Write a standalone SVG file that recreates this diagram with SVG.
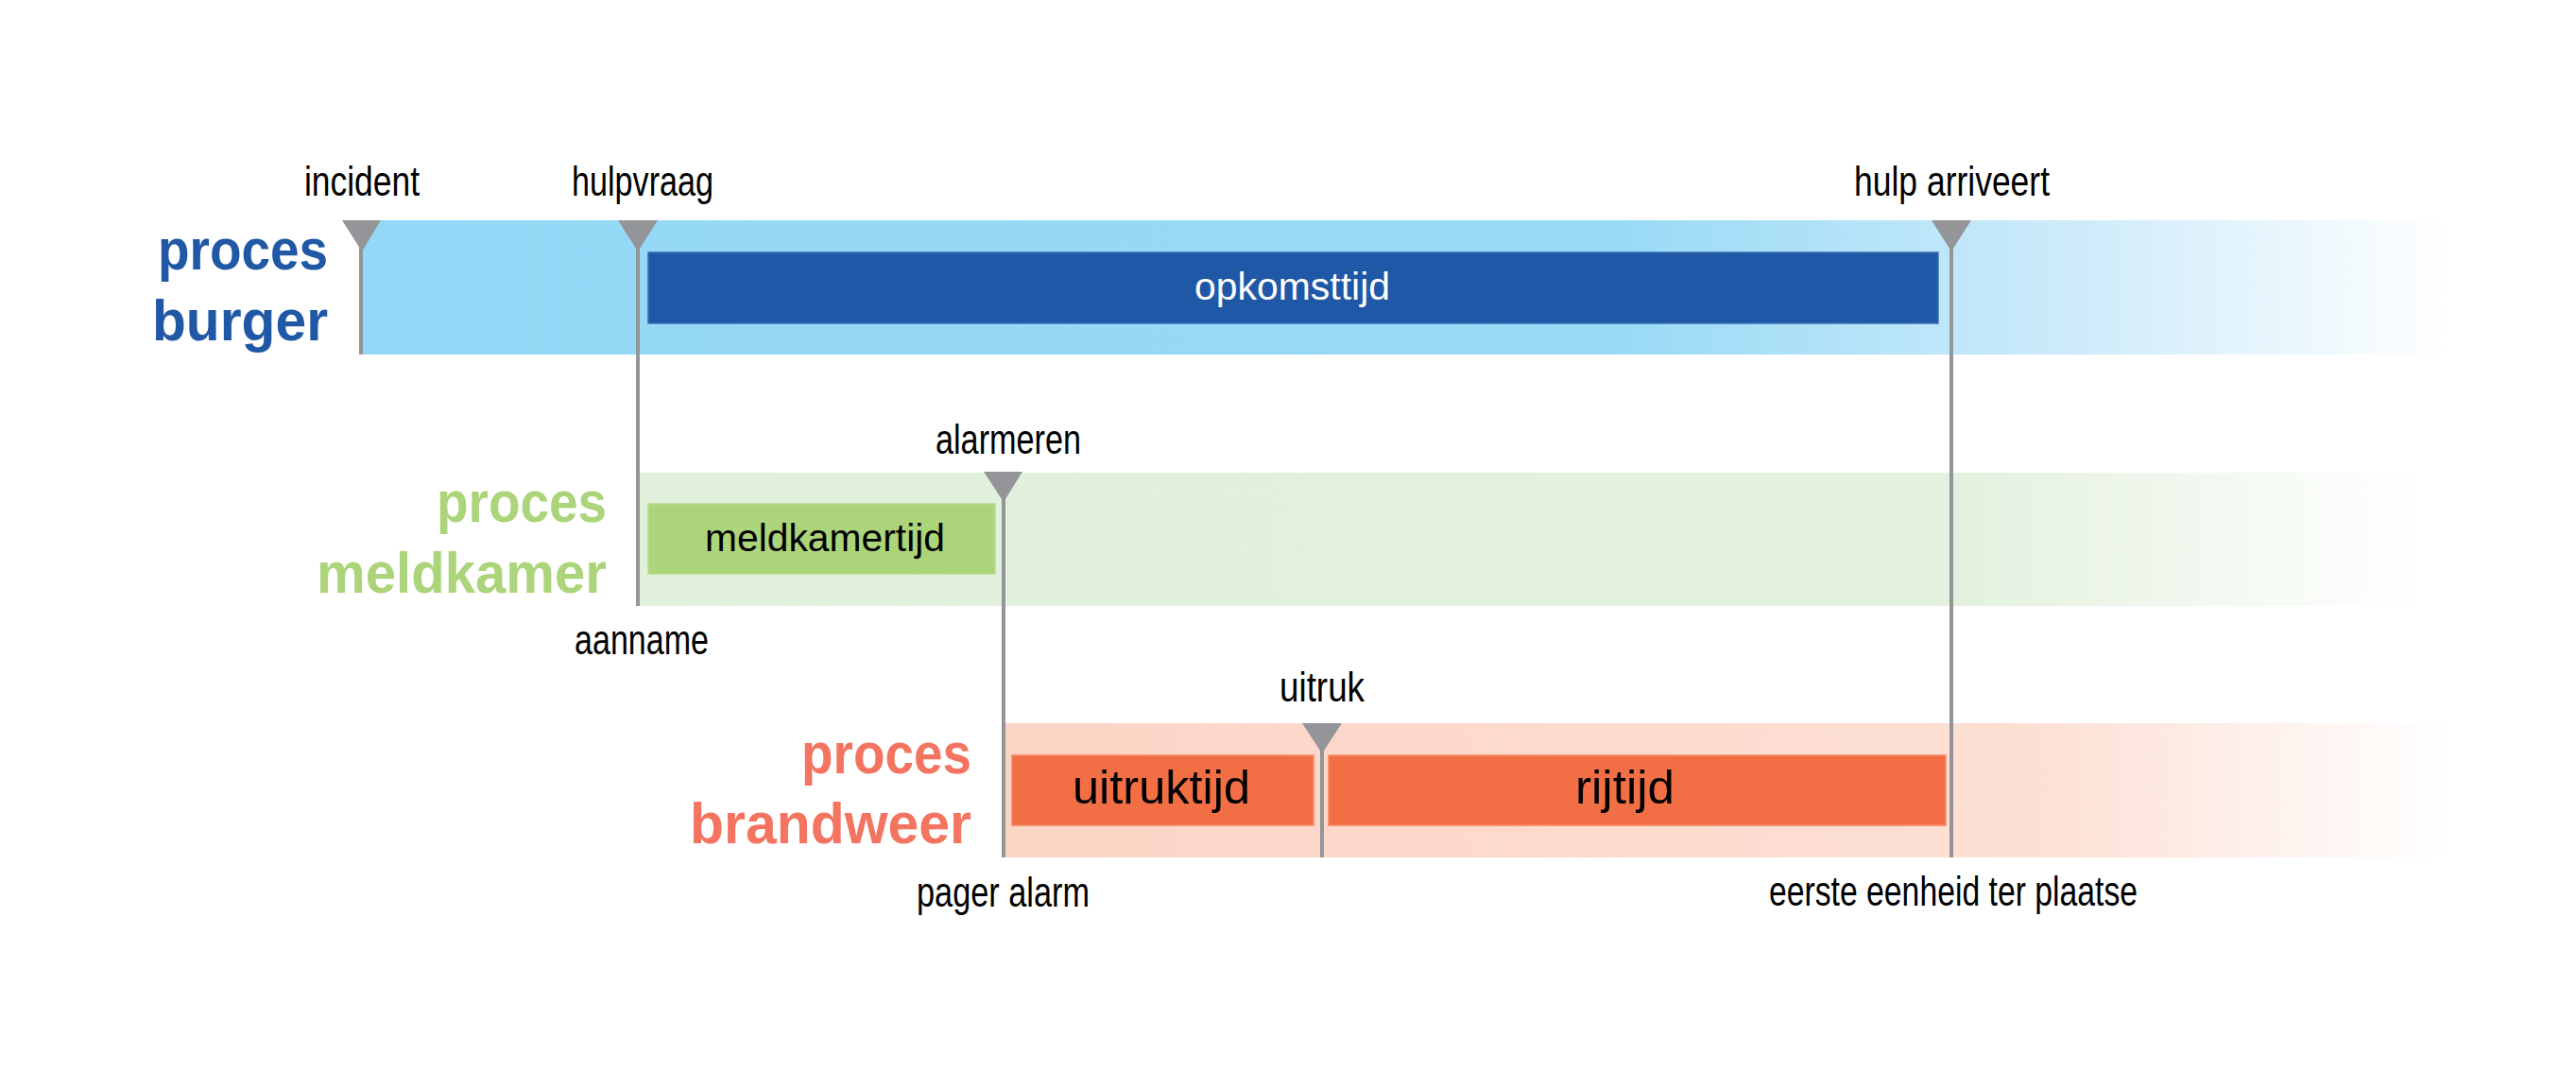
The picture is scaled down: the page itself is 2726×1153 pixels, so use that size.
<svg xmlns="http://www.w3.org/2000/svg" width="2726" height="1153" viewBox="0 0 2726 1153">
  <style>
    text { font-family: "Liberation Sans", Arial, sans-serif; }
    .lbl { font-size: 44px; fill: #000000; }
    .head { font-size: 62px; font-weight: bold; }
    .bar { font-size: 41px; }
    .bar50 { font-size: 50px; fill: #000000; }
    .tri { fill: #939598; }
    .vline { stroke: #939598; stroke-width: 4; fill: none; }
  </style>
  <defs>
    <linearGradient id="gBlue" gradientUnits="userSpaceOnUse" x1="382" y1="0" x2="2590" y2="0">
      <stop offset="0" stop-color="#93d8f6"/>
      <stop offset="0.6" stop-color="#98daf6"/>
      <stop offset="0.82" stop-color="#cdebfa"/>
      <stop offset="1" stop-color="#ffffff"/>
    </linearGradient>
    <linearGradient id="gGreen" gradientUnits="userSpaceOnUse" x1="677" y1="0" x2="2560" y2="0">
      <stop offset="0" stop-color="#e0f0db"/>
      <stop offset="0.74" stop-color="#e3f1de"/>
      <stop offset="1" stop-color="#ffffff"/>
    </linearGradient>
    <linearGradient id="gOrange" gradientUnits="userSpaceOnUse" x1="1063" y1="0" x2="2591" y2="0">
      <stop offset="0" stop-color="#fcd4c5"/>
      <stop offset="0.72" stop-color="#fde0d5"/>
      <stop offset="1" stop-color="#ffffff"/>
    </linearGradient>
  </defs>

  <rect x="0" y="0" width="2726" height="1153" fill="#ffffff"/>

  <!-- process bands -->
  <g id="proces-burger">
    <rect x="382" y="233" width="2208" height="142" fill="url(#gBlue)"/>
    <text class="head" x="167" y="285" fill="#2158a6" textLength="180" lengthAdjust="spacingAndGlyphs">proces</text>
    <text class="head" x="161" y="360" fill="#2158a6" textLength="186" lengthAdjust="spacingAndGlyphs">burger</text>
  </g>
  <g id="proces-meldkamer">
    <rect x="677" y="500" width="1883" height="141" fill="url(#gGreen)"/>
    <text class="head" x="462" y="552" fill="#acd47a" textLength="180" lengthAdjust="spacingAndGlyphs">proces</text>
    <text class="head" x="335" y="627" fill="#acd47a" textLength="307" lengthAdjust="spacingAndGlyphs">meldkamer</text>
  </g>
  <g id="proces-brandweer">
    <rect x="1063" y="765" width="1528" height="142" fill="url(#gOrange)"/>
    <text class="head" x="848" y="818" fill="#f37461" textLength="180" lengthAdjust="spacingAndGlyphs">proces</text>
    <text class="head" x="730" y="892" fill="#f37461" textLength="298" lengthAdjust="spacingAndGlyphs">brandweer</text>
  </g>

  <!-- duration bars -->
  <g id="opkomsttijd">
    <rect x="686" y="267" width="1365" height="75" fill="#1f58a6" stroke="#3a6db3" stroke-width="1.5"/>
    <text class="bar" x="1264" y="317" fill="#ffffff" textLength="207" lengthAdjust="spacingAndGlyphs">opkomsttijd</text>
  </g>
  <g id="meldkamertijd">
    <rect x="686" y="533" width="367" height="74" fill="#acd47a" stroke="#b9db8d" stroke-width="1.5"/>
    <text class="bar" x="746" y="583" fill="#000000" textLength="254" lengthAdjust="spacingAndGlyphs">meldkamertijd</text>
  </g>
  <g id="uitruktijd">
    <rect x="1071" y="799" width="319" height="74" fill="#f26f45" stroke="#f5865f" stroke-width="1.5"/>
    <text class="bar50" x="1135" y="850" textLength="188" lengthAdjust="spacingAndGlyphs">uitruktijd</text>
  </g>
  <g id="rijtijd">
    <rect x="1406" y="799" width="653" height="74" fill="#f26f45" stroke="#f5865f" stroke-width="1.5"/>
    <text class="bar50" x="1667" y="850" textLength="105" lengthAdjust="spacingAndGlyphs">rijtijd</text>
  </g>

  <!-- connectors: milestone lines -->
  <g id="connectors">
    <line class="vline" x1="382" y1="233" x2="382" y2="375"/>
    <line class="vline" x1="675" y1="233" x2="675" y2="641"/>
    <line class="vline" x1="2065" y1="233" x2="2065" y2="907"/>
    <line class="vline" x1="1062" y1="499" x2="1062" y2="907"/>
    <line class="vline" x1="1399" y1="765" x2="1399" y2="907"/>
  </g>

  <!-- milestones -->
  <g id="incident">
    <polygon class="tri" points="362,233 403,233 383,266"/>
    <text class="lbl" x="322" y="207" textLength="122" lengthAdjust="spacingAndGlyphs">incident</text>
  </g>
  <g id="hulpvraag">
    <polygon class="tri" points="654,233 696,233 675,266"/>
    <text class="lbl" x="605" y="207" textLength="150" lengthAdjust="spacingAndGlyphs">hulpvraag</text>
  </g>
  <g id="hulp-arriveert">
    <polygon class="tri" points="2044,233 2086,233 2065,266"/>
    <text class="lbl" x="1962" y="207" textLength="207" lengthAdjust="spacingAndGlyphs">hulp arriveert</text>
  </g>
  <g id="aanname">
    <text class="lbl" x="608" y="692" textLength="142" lengthAdjust="spacingAndGlyphs">aanname</text>
  </g>
  <g id="alarmeren">
    <polygon class="tri" points="1041,499 1082,499 1062,531"/>
    <text class="lbl" x="990" y="480" textLength="154" lengthAdjust="spacingAndGlyphs">alarmeren</text>
  </g>
  <g id="pager-alarm">
    <text class="lbl" x="970" y="959" textLength="183" lengthAdjust="spacingAndGlyphs">pager alarm</text>
  </g>
  <g id="uitruk">
    <polygon class="tri" points="1378,765 1420,765 1399,797"/>
    <text class="lbl" x="1354" y="742" textLength="90" lengthAdjust="spacingAndGlyphs">uitruk</text>
  </g>
  <g id="eerste-eenheid">
    <text class="lbl" x="1872" y="958" textLength="390" lengthAdjust="spacingAndGlyphs">eerste eenheid ter plaatse</text>
  </g>
</svg>
